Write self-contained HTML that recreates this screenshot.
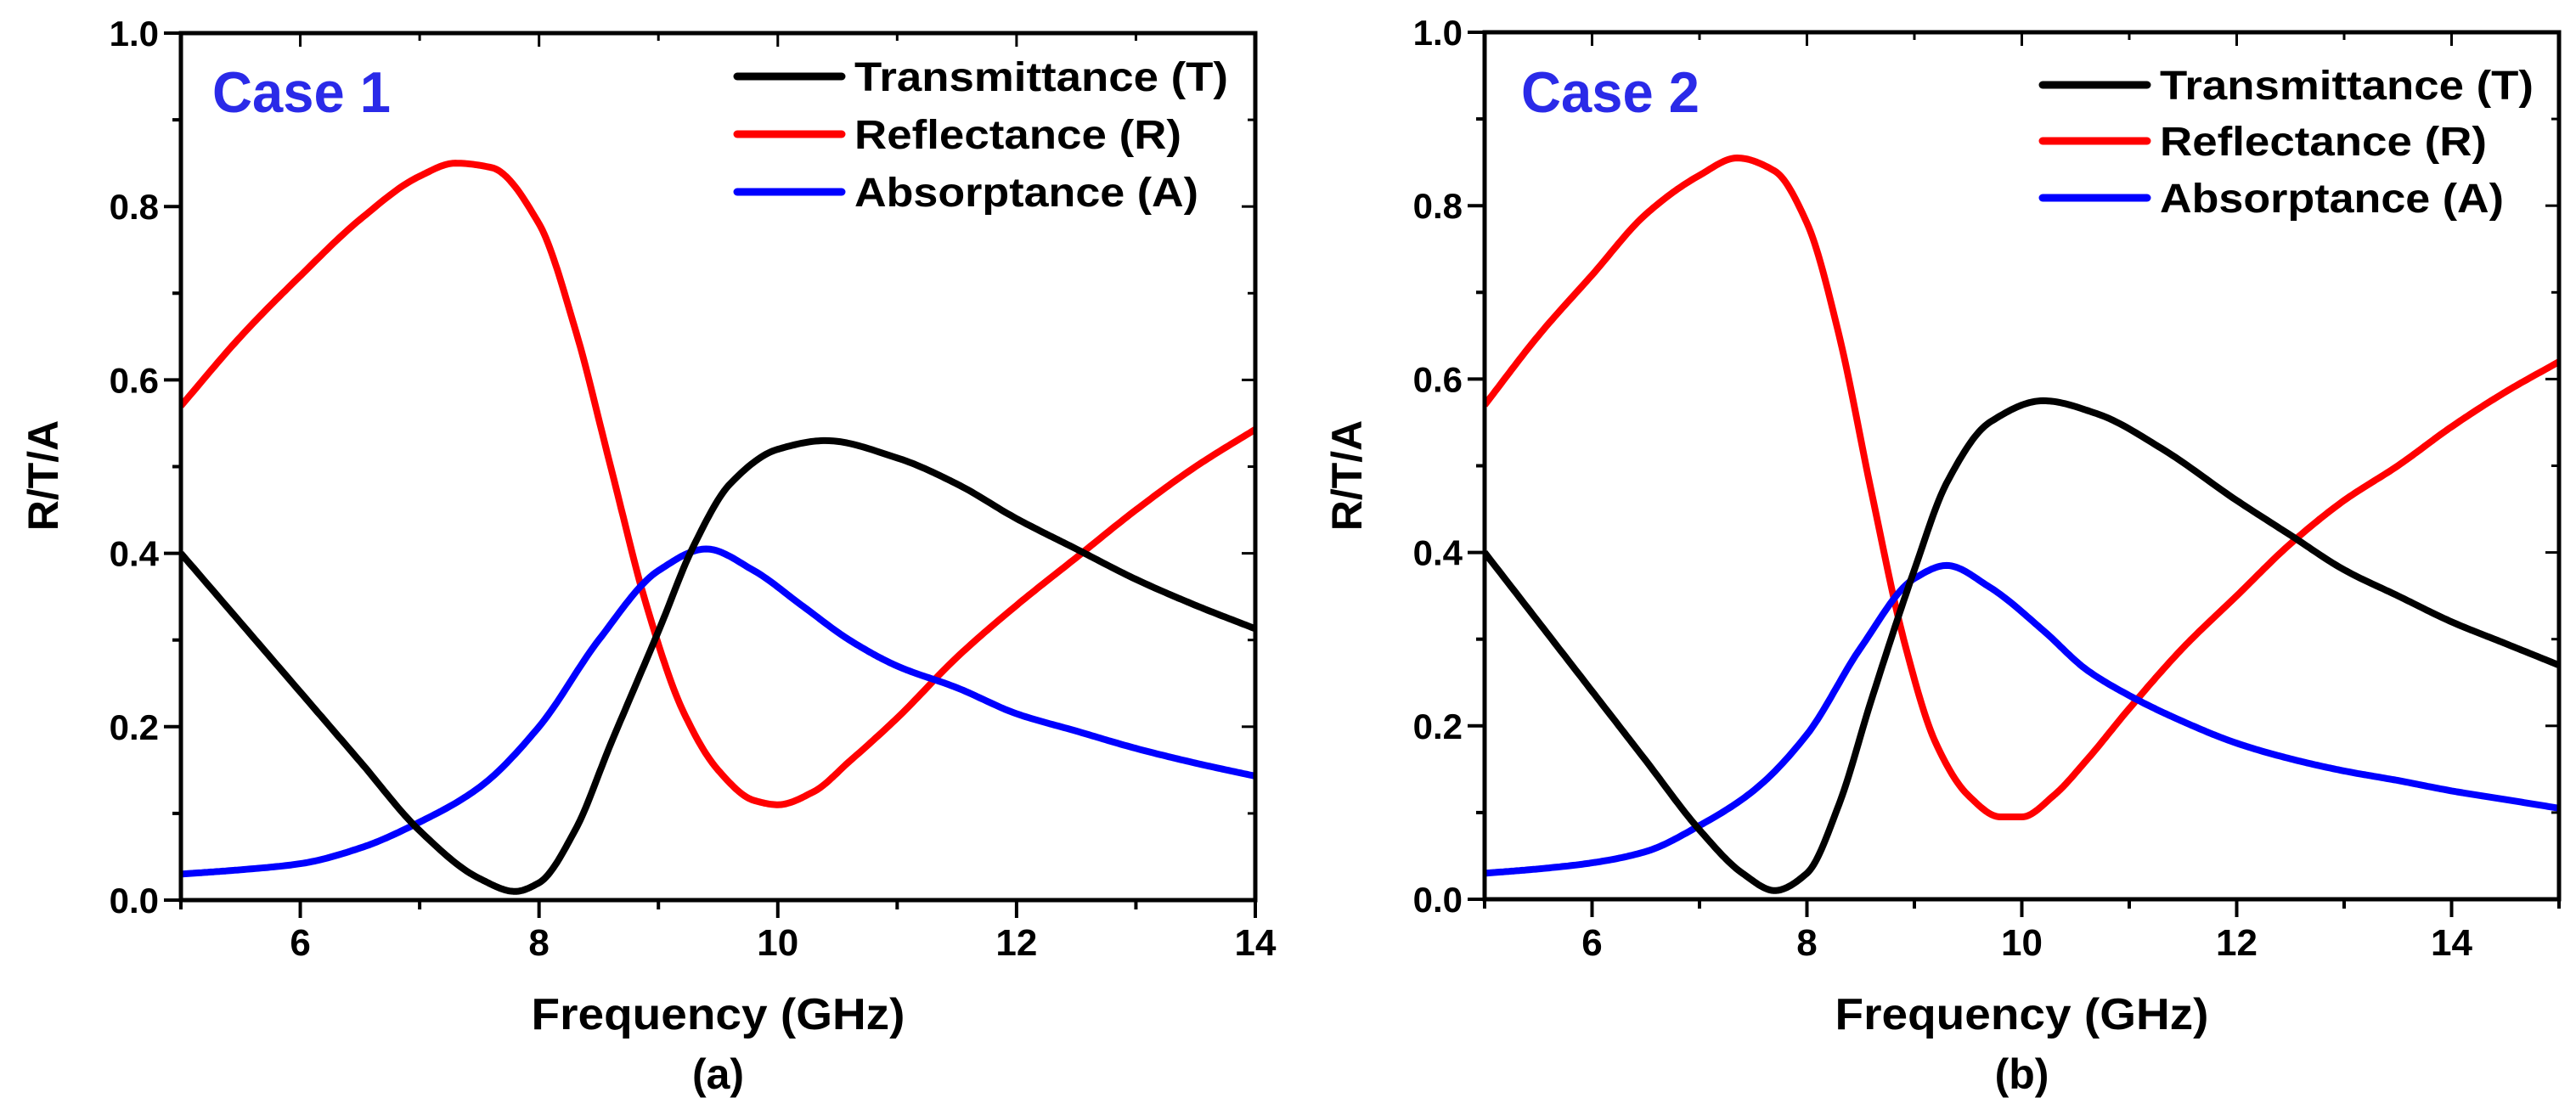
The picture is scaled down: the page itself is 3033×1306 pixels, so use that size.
<!DOCTYPE html>
<html><head><meta charset="utf-8"><style>
html,body{margin:0;padding:0;background:#fff;}
svg{display:block;font-family:"Liberation Sans",Arial,sans-serif;font-weight:bold;}
</style></head><body>
<svg id="fig" width="3033" height="1306" viewBox="0 0 3033 1306" xmlns="http://www.w3.org/2000/svg"></svg>
<script>
// Panel (a) data
const xA = [5,5.5,6,6.5,7,7.5,7.8,8,8.3,8.6,9,9.3,9.6,10,10.4,11,11.5,12,12.5,13,13.5,14];
const tA = [0.40,0.32,0.24,0.16,0.08,0.025,0.01,0.02,0.08,0.18,0.31,0.41,0.48,0.52,0.53,0.51,0.48,0.44,0.405,0.37,0.34,0.313];
const xRa = [5,5.5,6,6.5,7,7.3,7.6,8,8.3,8.6,8.9,9.2,9.5,9.8,10,10.3,10.6,11,11.5,12,12.5,13,13.5,14];
const rA = [0.57,0.65,0.72,0.785,0.835,0.85,0.845,0.78,0.66,0.50,0.34,0.22,0.15,0.115,0.11,0.125,0.16,0.21,0.28,0.34,0.395,0.45,0.50,0.543];
const xAa = [5,5.5,6,6.5,7,7.5,8,8.5,9,9.4,9.8,10.2,10.6,11,11.5,12,12.5,13,13.5,14];
const aA = [0.03,0.035,0.042,0.06,0.09,0.13,0.20,0.30,0.38,0.405,0.38,0.34,0.30,0.27,0.245,0.215,0.195,0.175,0.158,0.143];
// Panel (b) data
const xB = [5,5.5,6,6.5,7,7.4,7.7,8,8.3,8.6,9,9.3,9.7,10.2,10.7,11.3,12,12.5,13,13.5,14,14.5,15];
const tB = [0.40,0.32,0.24,0.16,0.08,0.03,0.01,0.03,0.11,0.23,0.38,0.48,0.55,0.575,0.56,0.52,0.46,0.42,0.38,0.35,0.32,0.295,0.27];
const xRb = [5,5.5,6,6.5,7,7.35,7.7,8,8.3,8.6,8.9,9.2,9.5,9.8,10,10.3,10.6,11,11.5,12,12.5,13,13.5,14,14.5,15];
const rB = [0.57,0.65,0.72,0.79,0.835,0.855,0.84,0.78,0.65,0.47,0.30,0.18,0.12,0.095,0.095,0.12,0.16,0.22,0.29,0.35,0.41,0.46,0.50,0.545,0.585,0.62];
const xAb = [5,5.5,6,6.5,7,7.5,8,8.5,9,9.3,9.7,10.2,10.6,11,11.5,12,12.5,13,13.5,14,14.5,15];
const aB = [0.03,0.035,0.042,0.055,0.085,0.125,0.19,0.29,0.37,0.385,0.36,0.31,0.265,0.235,0.205,0.18,0.162,0.148,0.137,0.125,0.115,0.105];
const yTicks = ["0.0","0.2","0.4","0.6","0.8","1.0"];
const xTicksA = [6,8,10,12,14];
const xTicksB = [6,8,10,12,14];

const NS="http://www.w3.org/2000/svg";
const svg=document.getElementById('fig');
function mk(tag,attrs,parent,text){const e=document.createElementNS(NS,tag);for(const k in attrs)e.setAttribute(k,attrs[k]);if(text!==undefined)e.textContent=text;(parent||svg).appendChild(e);return e;}
// monotone cubic (Fritsch-Carlson) interpolation sampled densely
function monotone(xs,ys){const n=xs.length,d=[],m=[];
  for(let i=0;i<n-1;i++)d.push((ys[i+1]-ys[i])/(xs[i+1]-xs[i]));
  m[0]=d[0];m[n-1]=d[n-2];
  for(let i=1;i<n-1;i++){if(d[i-1]*d[i]<=0)m[i]=0;else{const h0=xs[i]-xs[i-1],h1=xs[i+1]-xs[i];const w1=2*h1+h0,w2=h1+2*h0;m[i]=(w1+w2)/(w1/d[i-1]+w2/d[i]);}}
  const out=[];
  for(let i=0;i<n-1;i++){const h=xs[i+1]-xs[i];for(let k=0;k<20;k++){const t=k/20,t2=t*t,t3=t2*t;
    const y=(2*t3-3*t2+1)*ys[i]+(t3-2*t2+t)*h*m[i]+(-2*t3+3*t2)*ys[i+1]+(t3-t2)*h*m[i+1];out.push([xs[i]+t*h,y]);}}
  out.push([xs[n-1],ys[n-1]]);return out;}

function panel(o){
  const g=mk('g',{});
  
  
  const sx=v=>o.x0+(v-o.xmin)/(o.xmax-o.xmin)*(o.x1-o.x0);
  const sy=v=>o.y1-(v)*(o.y1-o.y0);
  for(let v=o.xmin;v<=o.xmax+1e-9;v+=1){const major=(v%2===0);
    const t=mk('line',{x1:sx(v),x2:sx(v),y1:o.y1,y2:o.y1+(major?21:11),stroke:'#000','stroke-width':4},g);
    
    mk('line',{x1:sx(v),x2:sx(v),y1:o.y0,y2:o.y0+(major?16:9),stroke:'#000','stroke-width':3},g);}
  for(let i=0;i<=10;i++){const v=i/10,major=i%2===0;
    const t=mk('line',{x1:o.x0,x2:o.x0-(major?20:10),y1:sy(v),y2:sy(v),stroke:'#000','stroke-width':4},g);
    
    mk('line',{x1:o.x1,x2:o.x1-(major?16:9),y1:sy(v),y2:sy(v),stroke:'#000','stroke-width':3},g);}
  yTicks.forEach((s,i)=>{const t=mk('text',{x:o.x0-26,y:sy(i*0.2)+15,'text-anchor':'end','font-size':42},g,s);
    });
  o.xt.forEach(v=>{const t=mk('text',{x:sx(v),y:1125,'text-anchor':'middle','font-size':44},g,String(v));
    });
  const ser=[[o.xr,o.r,'#ff0000','reflectance-line'],[o.xa,o.a,'#0000ff','absorptance-line'],[o.xt2,o.t,'#000','transmittance-line']];
  const clip='c'+o.name;
  const cp=mk('clipPath',{id:clip},g);mk('rect',{x:o.x0,y:o.y0-10,width:o.x1-o.x0,height:o.y1-o.y0+10},cp);
  ser.forEach(s=>{const pts=monotone(s[0],s[1]).map(p=>sx(p[0]).toFixed(1)+','+sy(p[1]).toFixed(1));
    const p=mk('path',{d:'M'+pts.join(' L'),fill:'none',stroke:s[2],'stroke-width':8,'stroke-linejoin':'round','clip-path':`url(#${clip})`},g);
    });
  const f=mk('rect',{x:o.x0,y:o.y0,width:o.x1-o.x0,height:o.y1-o.y0,fill:'none',stroke:'#000','stroke-width':5},g);
  
  const yt=mk('text',{x:0,y:0,'text-anchor':'middle','font-size':50,transform:`translate(${o.x0-145},560) rotate(-90)`},g,'R/T/A');
  
  const xtl=mk('text',{x:(o.x0+o.x1)/2,y:1212,'text-anchor':'middle','font-size':52,'textLength':440,'lengthAdjust':'spacingAndGlyphs'},g,'Frequency (GHz)');
  
  const cap=mk('text',{x:(o.x0+o.x1)/2,y:1282,'text-anchor':'middle','font-size':50},g,o.cap);
  
  const cs=mk('text',{x:o.caseX,y:132,'font-size':68,fill:'#2a2ae8','textLength':210,'lengthAdjust':'spacingAndGlyphs'},g,o.caseT);
  
  const lg=mk('g',{},g);
  [['Transmittance (T)','#000',440],['Reflectance (R)','#ff0000',385],['Absorptance (A)','#0000ff',405]].forEach((e,i)=>{
    const y=o.ly[i];
    const en=mk('g',{},lg);
    mk('line',{x1:o.lx,x2:o.lx+123,y1:y,y2:y,stroke:e[1],'stroke-width':9,'stroke-linecap':'round'},en);
    mk('text',{x:o.lx+138,y:y+17,'font-size':48,'textLength':e[2],'lengthAdjust':'spacingAndGlyphs'},en,e[0]);
  });
}
panel({name:'panel-a',x0:213,x1:1478,y0:39,y1:1060,xmin:5,xmax:14,xt:xTicksA,xt2:xA,t:tA,xr:xRa,r:rA,xa:xAa,a:aA,cap:'(a)',caseT:'Case 1',caseX:250,lx:868,ly:[90,158,226]});
panel({name:'panel-b',x0:1748,x1:3013,y0:38,y1:1059,xmin:5,xmax:15,xt:xTicksB,xt2:xB,t:tB,xr:xRb,r:rB,xa:xAb,a:aB,cap:'(b)',caseT:'Case 2',caseX:1791,lx:2405,ly:[100,166,233]});
</script>
</body></html>
